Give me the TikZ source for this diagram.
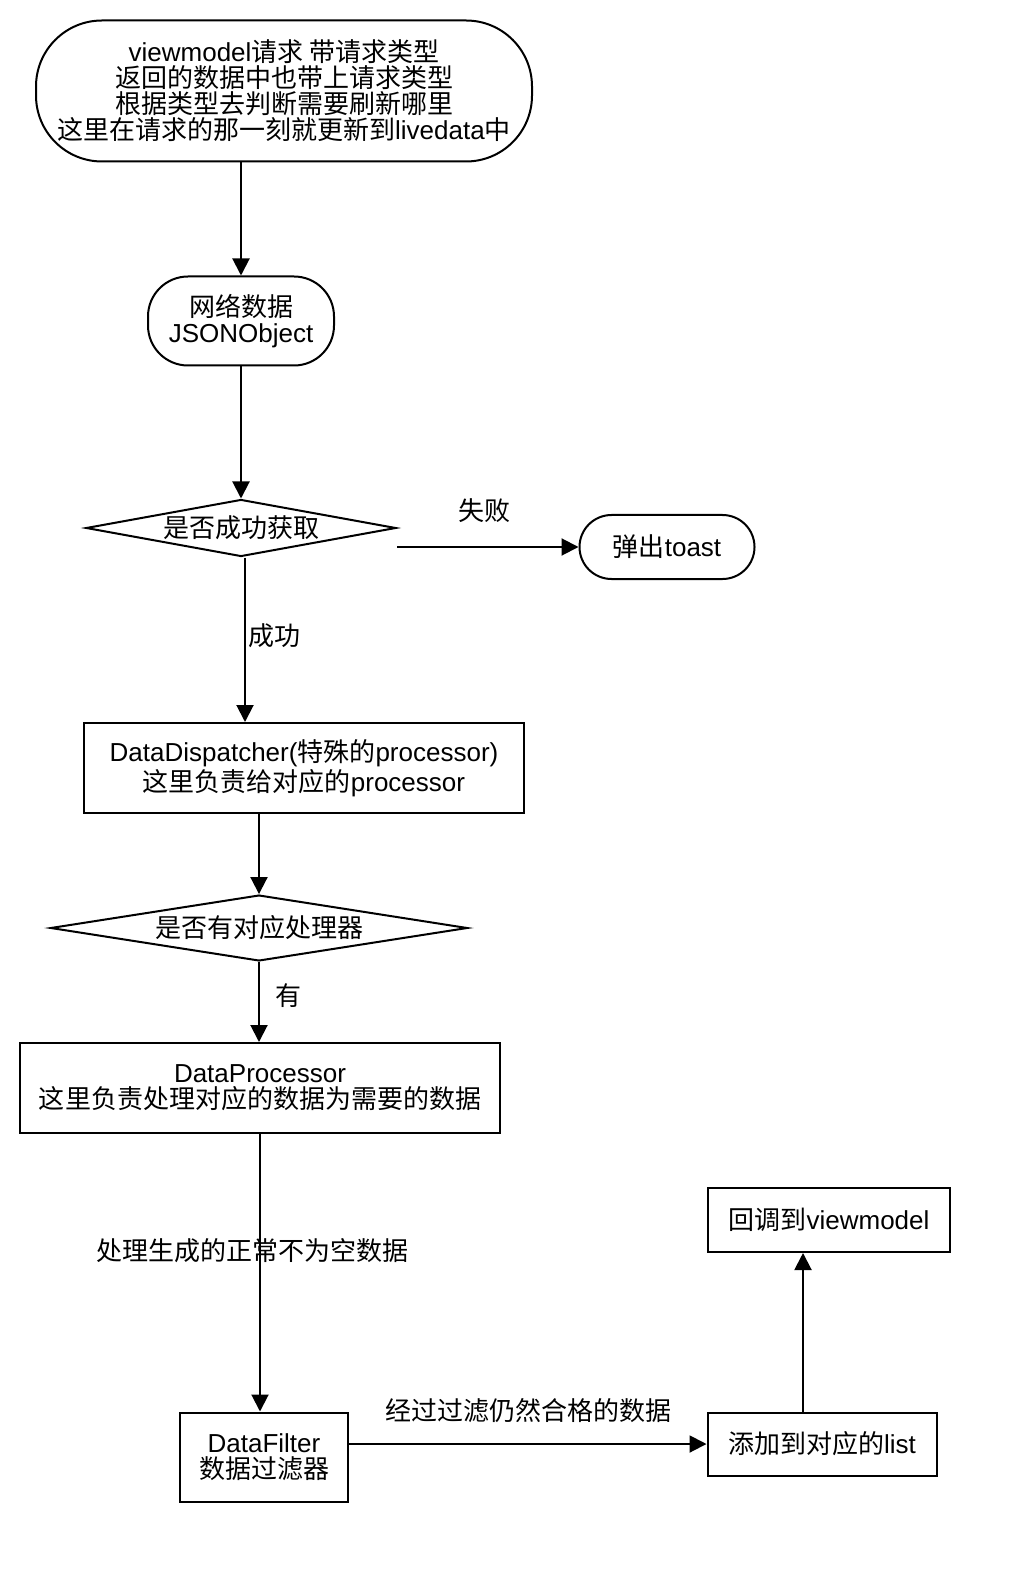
\documentclass[tikz,border=0pt]{standalone}
\usepackage{fontspec}
\setmainfont{Liberation Sans}
\newfontfamily\cjk{Noto Sans CJK SC}
\newcommand\zh[1]{{\cjk #1}}
\usetikzlibrary{arrows.meta,shapes.geometric}

\tikzset{
  box/.style={draw,line width=1pt,align=center,inner sep=0pt},
  roundbox/.style={box,rounded corners=#1},
  decision/.style={draw,line width=1pt,diamond,aspect=5,inner sep=0pt},
  flow/.style={line width=1pt,-{Triangle[length=8.5pt,width=8.5pt]}},
  lbl/.style={inner sep=0pt}
}

\begin{document}
\begin{tikzpicture}[x=0.5pt,y=-0.5pt,font=\fontsize{13}{13}\selectfont]
\useasboundingbox (0,0) rectangle (1030,1582);

% steps
\node[roundbox=33pt,minimum width=248pt,minimum height=70.5pt] (req) at (284,91)
  {viewmodel\zh{请求 带请求类型}\\\zh{返回的数据中也带上请求类型}\\\zh{根据类型去判断需要刷新哪里}\\\zh{这里在请求的那一刻就更新到}livedata\zh{中}};
\node[roundbox=20pt,minimum width=93pt,minimum height=44.5pt] (net) at (241,321)
  {\zh{网络数据}\\JSONObject};
\node[decision,minimum width=155pt,minimum height=28.5pt] (ok) at (241,528)
  {\zh{是否成功获取}};
\node[roundbox=16pt,minimum width=87.5pt,minimum height=32pt] (toast) at (667,547)
  {\zh{弹出}toast};
\node[box,minimum width=220pt,minimum height=45pt] (disp) at (304,768)
  {DataDispatcher(\zh{特殊的}processor)\\\zh{这里负责给对应的}processor};
\node[decision,minimum width=208.5pt,minimum height=28pt] (has) at (259,928)
  {\zh{是否有对应处理器}};
\node[box,minimum width=240pt,minimum height=45pt] (proc) at (260,1088)
  {DataProcessor\\\zh{这里负责处理对应的数据为需要的数据}};
\node[box,minimum width=84pt,minimum height=44.5pt] (filt) at (264,1457)
  {DataFilter\\\zh{数据过滤器}};
\node[box,minimum width=114.5pt,minimum height=31.5pt] (add) at (822,1444)
  {\zh{添加到对应的}list};
\node[box,minimum width=121pt,minimum height=32pt] (back) at (829,1220)
  {\zh{回调到}viewmodel};

% arrows
\draw[flow] (req.south -| net.north) -- (net.north);
\draw[flow] (net.south) -- (net.south |- ok.north);
\draw[flow] (ok.east |- toast.west) -- (toast.west);
\draw[flow] ([xshift=2pt]ok.south) -- ([xshift=2pt]ok.south |- disp.north);
\draw[flow] (has.north |- disp.south) -- (has.north);
\draw[flow] (has.south) -- (has.south |- proc.north);
\draw[flow] (proc.south) -- (proc.south |- filt.north);
\draw[flow] (filt.east |- add.west) -- (add.west);
\draw[flow] ([xshift=-9.5pt]add.north) -- ([xshift=-9.5pt]add.north |- back.south);

% labels
\node[lbl] (fail) at (484,511) {\zh{失败}};
\node[lbl,anchor=west] (succ) at (248,636) {\zh{成功}};
\node[lbl] (yes) at (288,996) {\zh{有}};
\node[lbl] (made) at (252,1251) {\zh{处理生成的正常不为空数据}};
\node[lbl] (pass) at (528,1411) {\zh{经过过滤仍然合格的数据}};

\end{tikzpicture}
\end{document}
